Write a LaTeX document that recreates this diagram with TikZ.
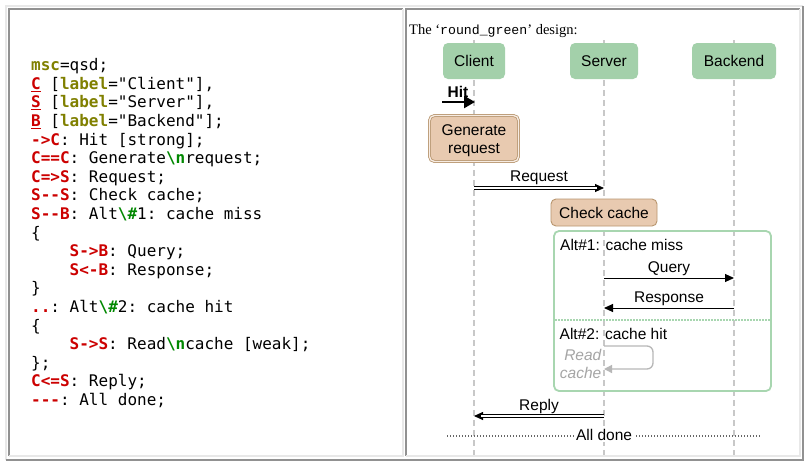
\documentclass[tikz,border=0pt]{standalone}
\usepackage{fontspec}
\setmainfont{Liberation Serif}
\setsansfont{Liberation Sans}
\setmonofont{DejaVu Sans Mono}
\newfontfamily\libmono{Liberation Mono}
\usetikzlibrary{arrows.meta}
\definecolor{cRed}{RGB}{204,0,0}
\definecolor{cOlive}{RGB}{128,128,0}
\definecolor{cGreen}{RGB}{0,136,0}
\definecolor{entGreen}{RGB}{163,208,170}
\definecolor{altGreen}{RGB}{168,214,176}
\definecolor{peach}{RGB}{232,202,176}
\definecolor{peachLine}{RGB}{184,150,111}
\definecolor{lifeGray}{RGB}{200,200,200}
\definecolor{weakGray}{RGB}{165,165,165}
\definecolor{darkBorder}{RGB}{145,145,145}
\definecolor{lightBorder}{RGB}{232,232,232}
\newcommand\cKw[1]{\textcolor{cOlive}{\bfseries #1}}
\newcommand\cRd[1]{\textcolor{cRed}{\bfseries #1}}
\newcommand\cGr[1]{\textcolor{cGreen}{\bfseries #1}}
\newcommand\cEnt[1]{\textcolor{cRed}{\bfseries\underline{#1}}}
\begin{document}
\begin{tikzpicture}[x=1pt,y=-1pt,
  codeline/.style={anchor=base west,inner sep=0pt,font=\ttfamily\fontsize{16}{18.6}\selectfont},
  sans/.style={font=\sffamily\fontsize{15.5}{18}\selectfont},
  entbox/.style={sans,fill=entGreen,rounded corners=5pt,minimum height=36pt,inner sep=0pt},
  actbox/.style={fill=peach,draw=peachLine,line width=0.9pt,rounded corners=5pt,inner sep=0pt},
  lifeline/.style={draw=lifeGray,line width=1.6pt,dash pattern=on 6pt off 4pt},
  msgtxt/.style={sans,anchor=base,inner sep=0pt},
  plainmsg/.style={draw=black,line width=1pt,-{Triangle[length=9pt,width=8pt]}},
  dblmsg/.style={draw=black,line width=0.9pt,double=white,double distance=1.4pt,shorten >=7pt},
  dbltip/.style={draw=black,line width=0.9pt,-{Triangle[length=9pt,width=8pt]}},
]
\useasboundingbox (0,0) rectangle (811,461);
\fill[white] (0,0) rectangle (811,461);
% table borders
\draw[lightBorder,line width=1.2pt] (6,460) -- (6,6) -- (803,6);
\draw[darkBorder,line width=1.5pt] (803,6) -- (803,460) -- (6,460);
\draw[darkBorder,line width=1.5pt] (9,456) -- (9,9) -- (403,9);
\draw[lightBorder,line width=1.2pt] (403,9) -- (403,456) -- (9,456);
\draw[darkBorder,line width=1.5pt] (406,456) -- (406,9) -- (800,9);
\draw[lightBorder,line width=1.2pt] (800,9) -- (800,456) -- (406,456);

% code panel
\node[codeline] (l1) at (31,70.7) {\cKw{msc}=qsd;};
\node[codeline] (l2) at (31,89.3) {\cEnt{C} [\cKw{label}="Client"],};
\node[codeline] (l3) at (31,107.9) {\cEnt{S} [\cKw{label}="Server"],};
\node[codeline] (l4) at (31,126.5) {\cEnt{B} [\cKw{label}="Backend"];};
\node[codeline] (l5) at (31,145.1) {\cRd{->C}: Hit [strong];};
\node[codeline] (l6) at (31,163.7) {\cRd{C==C}: Generate\cGr{\textbackslash n}request;};
\node[codeline] (l7) at (31,182.3) {\cRd{C=>S}: Request;};
\node[codeline] (l8) at (31,200.9) {\cRd{S--S}: Check cache;};
\node[codeline] (l9) at (31,219.5) {\cRd{S--B}: Alt\cGr{\textbackslash\#}1: cache miss};
\node[codeline] (l10) at (31,238.1) {\{};
\node[codeline] (l11) at (69.5,256.7) {\cRd{S->B}: Query;};
\node[codeline] (l12) at (69.5,275.3) {\cRd{S<-B}: Response;};
\node[codeline] (l13) at (31,293.9) {\}};
\node[codeline] (l14) at (31,312.5) {\cRd{..}: Alt\cGr{\textbackslash\#}2: cache hit};
\node[codeline] (l15) at (31,331.1) {\{};
\node[codeline] (l16) at (69.5,349.7) {\cRd{S->S}: Read\cGr{\textbackslash n}cache [weak];};
\node[codeline] (l17) at (31,368.3) {\};};
\node[codeline] (l18) at (31,386.9) {\cRd{C<=S}: Reply;};
\node[codeline] (l19) at (31,405.5) {\cRd{---}: All done;};

% title
\node[anchor=base west,inner sep=0pt,font=\fontsize{14.5}{16}\selectfont] (title) at (409,34.3)
  {The `{\libmono\fontsize{13.2}{16}\selectfont round\_green}' design:};

% lifelines
\coordinate (Ctop) at (474,40); \coordinate (Cbot) at (474,455);
\coordinate (Stop) at (604,40); \coordinate (Sbot) at (604,455);
\coordinate (Btop) at (734,40); \coordinate (Bbot) at (734,455);
\draw[lifeline] (Ctop) -- (Cbot);
\draw[lifeline] (Stop) -- (Sbot);
\draw[lifeline] (Btop) -- (Bbot);

% entities
\node[entbox,minimum width=62pt] (client) at (474,61) {Client};
\node[entbox,minimum width=68pt] (server) at (604,61) {Server};
\node[entbox,minimum width=84pt] (backend) at (734,61) {Backend};

% Hit
\coordinate (hitS) at (442,102); \coordinate (hitE) at (475,102);
\draw[line width=2.5pt,-{Triangle[length=11pt,width=12pt]}] (hitS) -- (hitE);
\node[msgtxt,font=\sffamily\bfseries\fontsize{15.5}{18}\selectfont] (hitlbl) at (458,97) {Hit};

% Generate request
\node[actbox,double=peach!35!white,double distance=1.3pt,line width=0.8pt,minimum width=89pt,minimum height=46pt] (gen) at (474,138.5) {};
\node[sans,align=center,inner sep=0pt] (gentxt) at (474,141) {Generate\\request};

% Request
\coordinate (reqC) at (474,188); \coordinate (reqS) at (604,188);
\draw[dbltip] (reqC) -- (reqS);
\draw[dblmsg] (reqC) -- (reqS);
\node[msgtxt] (reqlbl) at (539,181.5) {Request};

% Check cache
\node[actbox,sans,minimum width=106pt,minimum height=27pt] (chk) at (604,212.5) {Check cache};

% Alt frame
\node[draw=altGreen,line width=1.8pt,rounded corners=5pt,minimum width=217pt,minimum height=160pt,inner sep=0pt] (alt) at (662.5,311) {};
\coordinate (sepL) at (555,320); \coordinate (sepR) at (770,320);
\draw[altGreen,line width=1.3pt,dash pattern=on 1.5pt off 1.5pt] (sepL) -- (sepR);
\node[sans,anchor=base west,inner sep=0pt] (alt1) at (560,250.5) {Alt\#1: cache miss};
\node[sans,anchor=base west,inner sep=0pt] (alt2) at (559.5,339.5) {Alt\#2: cache hit};

% Query / Response
\coordinate (qS) at (604,278); \coordinate (qB) at (734,278);
\draw[plainmsg] (qS) -- (qB);
\node[msgtxt] (qlbl) at (669,272) {Query};
\coordinate (rB) at (734,308); \coordinate (rS) at (604,308);
\draw[plainmsg] (rB) -- (rS);
\node[msgtxt] (rlbl) at (669,302.5) {Response};

% Read cache (weak self message)
\coordinate (rcS) at (604,346); \coordinate (rcE) at (604,369); \coordinate (rcX) at (653,357);
\draw[weakGray!80,line width=1.3pt,rounded corners=6pt,-{Triangle[length=8pt,width=8pt]}]
  (rcS) -- (rcS -| rcX) -- (rcE -| rcX) -- (rcE);
\node[sans,anchor=base east,inner sep=0pt,text=weakGray,font=\sffamily\itshape\fontsize{15.5}{18}\selectfont] (rd1) at (601.5,360.5) {Read};
\node[sans,anchor=base east,inner sep=0pt,text=weakGray,font=\sffamily\itshape\fontsize{15.5}{18}\selectfont] (rd2) at (601.5,378.5) {cache};

% Reply
\coordinate (rpS) at (604,416); \coordinate (rpC) at (474,416);
\draw[dbltip] (rpS) -- (rpC);
\draw[dblmsg] (rpS) -- (rpC);
\node[msgtxt] (rplbl) at (539,410) {Reply};

% All done
\coordinate (adL) at (447,436); \coordinate (adR) at (761,436);
\draw[black!60,line width=1.2pt,dash pattern=on 1.2pt off 1.8pt] (adL) -- (adR);
\node[sans,anchor=base,fill=white,inner sep=1.5pt] (ad) at (604,440.5) {All done};
\end{tikzpicture}
\end{document}
